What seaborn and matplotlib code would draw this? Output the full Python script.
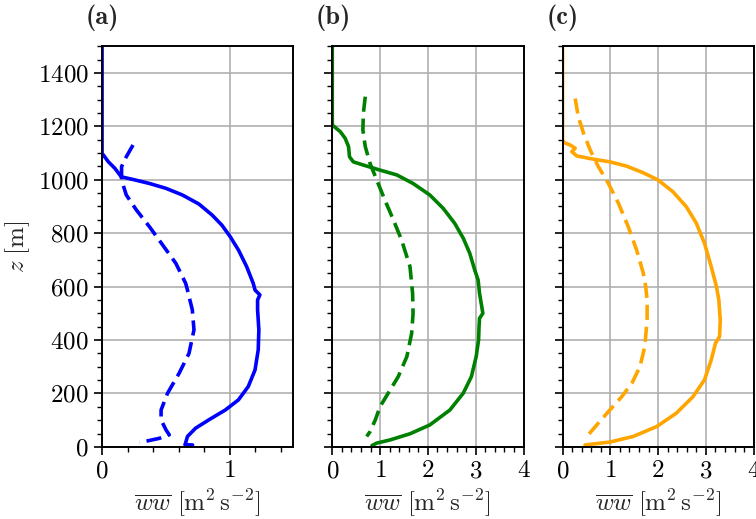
import matplotlib
matplotlib.use("Agg")
import matplotlib.pyplot as plt
import seaborn as sns
import pandas as pd
from matplotlib.ticker import MultipleLocator

# panel (a)
a_solid_ww = [0.0, 0.0, 0.05, 0.10, 0.14, 0.15, 0.243, 0.372, 0.50, 0.63, 0.76, 0.863, 0.94, 1.005,
              1.07, 1.134, 1.186, 1.2, 1.238, 1.22, 1.22, 1.23, 1.225, 1.2, 1.147, 1.07, 0.967,
              0.837, 0.734, 0.67, 0.655, 0.65, 0.71]
a_solid_z = [1500, 1099, 1067, 1043, 1018, 1011, 1001, 986, 968, 943, 909, 868, 830, 787,
             737, 675, 612, 587, 569, 550, 513, 438, 363, 288, 226, 176, 138,
             101, 70, 39, 14, 8, 7]
a_dash_ww = [0.243, 0.19, 0.153, 0.153, 0.19, 0.269, 0.372, 0.475, 0.579, 0.656, 0.67, 0.708,
             0.721, 0.682, 0.605, 0.514, 0.463, 0.463, 0.501, 0.527, 0.45, 0.372, 0.295]
a_dash_z = [1130, 1086, 1049, 999, 943, 887, 824, 756, 687, 612, 587, 513,
            438, 350, 276, 201, 138, 101, 64, 45, 32, 24, 16]

# panel (b)
b_solid_ww = [0.0, 0.0, 0.167, 0.27, 0.34, 0.36, 0.44, 0.65, 1.0, 1.35, 1.69, 2.04, 2.32, 2.56,
              2.74, 2.875, 2.98, 3.05, 3.08, 3.15, 3.08, 3.07, 3.06, 3.01, 2.91, 2.74, 2.46,
              2.04, 1.625, 1.21, 0.93, 0.83]
b_solid_z = [1500, 1205, 1180, 1155, 1124, 1086, 1067, 1055, 1036, 1018, 986, 943, 893, 837,
             781, 725, 662, 625, 575, 500, 481, 450, 400, 338, 263, 201, 138,
             82, 49, 26, 14, 5]
b_dash_ww = [0.69, 0.65, 0.64, 0.69, 0.79, 0.93, 1.10, 1.28, 1.45, 1.625, 1.68, 1.69, 1.66,
             1.56, 1.38, 1.17, 1.0, 0.90, 0.79, 0.72]
b_dash_z = [1311, 1249, 1186, 1124, 1061, 999, 924, 849, 774, 675, 575, 500, 425,
            338, 263, 201, 151, 101, 57, 39]

# panel (c)
c_solid_ww = [0.0, 0.0, 0.035, 0.16, 0.265, 0.195, 0.30, 0.646, 0.99, 1.34, 1.69, 2.0, 2.31,
              2.59, 2.80, 2.97, 3.11, 3.22, 3.27, 3.30, 3.285, 3.20, 3.11, 2.97, 2.73, 2.38,
              1.97, 1.48, 0.99, 0.47]
c_solid_z = [1500, 1149, 1139, 1130, 1118, 1105, 1089, 1077, 1067, 1051, 1026, 999, 955,
             899, 837, 762, 675, 600, 550, 475, 413, 388, 325, 251, 188, 126,
             76, 39, 18, 7]
c_dash_ww = [0.265, 0.33, 0.44, 0.58, 0.75, 0.96, 1.17, 1.375, 1.55, 1.69, 1.74, 1.77, 1.77,
             1.72, 1.62, 1.45, 1.24, 0.99, 0.75, 0.51]
c_dash_z = [1304, 1236, 1174, 1111, 1049, 986, 912, 824, 737, 650, 600, 550, 475,
            375, 300, 238, 188, 138, 89, 39]

panels = [
    ("(a)", "blue", a_solid_ww, a_solid_z, a_dash_ww, a_dash_z, 1.5),
    ("(b)", "green", b_solid_ww, b_solid_z, b_dash_ww, b_dash_z, 4),
    ("(c)", "orange", c_solid_ww, c_solid_z, c_dash_ww, c_dash_z, 4),
]

sns.set_theme(style="ticks")
plt.rcParams.update({
    "font.family": ["cmr10", "DejaVu Serif"],
    "mathtext.fontset": "cm",
    "axes.formatter.use_mathtext": True,
    "axes.unicode_minus": False,
    "font.size": 18,
    "xtick.labelsize": 18,
    "ytick.labelsize": 18,
    "axes.labelsize": 18,
    "axes.edgecolor": "black",
    "axes.linewidth": 1.4,
})

fig, axes = plt.subplots(1, 3, figsize=(7.56, 5.19), dpi=100, sharey=True)
fig.subplots_adjust(left=0.135, right=0.997, bottom=0.139, top=0.911, wspace=0.204)

xlabel = r"$\overline{ww}\ [\mathrm{m}^2\,\mathrm{s}^{-2}]$"

for ax, (tag, color, sw, sz, dw, dz, xmax) in zip(axes, panels):
    solid = pd.DataFrame({"ww": sw, "z": sz})
    dash = pd.DataFrame({"ww": dw, "z": dz})
    sns.lineplot(data=solid, x="ww", y="z", sort=False, estimator=None, color=color,
                 lw=2.6, ax=ax)
    sns.lineplot(data=dash, x="ww", y="z", sort=False, estimator=None, color=color,
                 lw=2.6, ax=ax, linestyle=(0, (4.2, 1.9)))
    ax.set_xlim(0, xmax)
    ax.set_ylim(0, 1500)
    ax.xaxis.set_major_locator(MultipleLocator(1))
    ax.xaxis.set_minor_locator(MultipleLocator(0.2))
    ax.yaxis.set_major_locator(MultipleLocator(200))
    ax.yaxis.set_minor_locator(MultipleLocator(50))
    ax.grid(True, which="major", color="#b0b0b0", lw=1.2)
    ax.set_axisbelow(True)
    ax.tick_params(which="major", direction="out", length=6, width=1.2, colors="black")
    ax.tick_params(which="minor", direction="out", length=3.5, width=1.0, colors="black")
    ax.set_xlabel(xlabel)
    ax.set_ylabel("")
    ax.text(-0.085, 1.055, tag, transform=ax.transAxes, family="cmb10",
            fontsize=19, ha="left", va="baseline")
    for s in ax.spines.values():
        s.set_visible(True)

axes[0].set_ylabel(r"$z\ [\mathrm{m}]$")
axes[1].tick_params(labelleft=False)
axes[2].tick_params(labelleft=False)

fig.savefig("out.png", dpi=100)
